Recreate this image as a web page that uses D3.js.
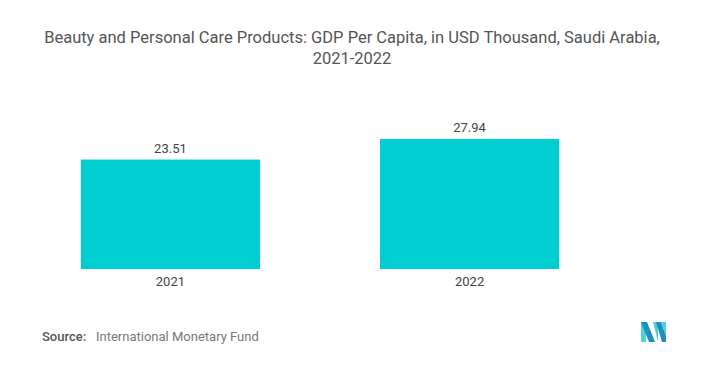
<!DOCTYPE html>
<html><head><meta charset="utf-8">
<script src="https://cdn.jsdelivr.net/npm/d3@7"></script>
<style>body{margin:0;background:#fff}svg{display:block}</style>
</head><body><svg id="c" width="704" height="376"></svg>
<script>
const categories = ["2021", "2022"];
const values = [23.51, 27.94];
const titleLines = ["Beauty and Personal Care Products: GDP Per Capita, in USD Thousand, Saudi Arabia,", "2021-2022"];
const sourceLabel = "Source:";
const sourceText = "International Monetary Fund";

const svg = d3.select("#c");
const font = "Roboto, 'Open Sans', sans-serif";

svg.append("text").attr("x", 352).attr("text-anchor", "middle")
  .attr("font-family", font).attr("font-size", 16.5).attr("fill", "#555")
  .selectAll("tspan").data(titleLines).join("tspan")
  .attr("x", 352).attr("y", (d, i) => 43 + i * 21).text(d => d);

const x = d3.scaleBand().domain(categories).range([21, 619]).paddingInner(0.401).paddingOuter(0.2);
const y = d3.scaleLinear().domain([0, 30]).range([269, 269 - 30 * 4.655]);

svg.selectAll("rect.bar").data(values).join("rect").attr("class", "bar")
  .attr("x", (d, i) => x(categories[i])).attr("width", x.bandwidth())
  .attr("y", d => y(d)).attr("height", d => y(0) - y(d))
  .attr("fill", "#00ced1");

svg.selectAll("text.val").data(values).join("text").attr("class", "val")
  .attr("x", (d, i) => x(categories[i]) + x.bandwidth() / 2)
  .attr("y", d => y(d) - 7).attr("text-anchor", "middle")
  .attr("font-family", font).attr("font-size", 13).attr("fill", "#444")
  .text(d => d.toFixed(2));

const xAxis = svg.append("g").attr("transform", `translate(0,${y(0)})`)
  .call(d3.axisBottom(x).tickSize(0).tickPadding(8));
xAxis.select(".domain").remove();
xAxis.selectAll("text").attr("font-family", font).attr("font-size", 13).attr("fill", "#444").attr("dy", "0.71em");

svg.append("text").attr("x", 42).attr("y", 341).attr("font-family", font)
  .attr("font-size", 13).attr("font-weight", 500).attr("fill", "#555").text(sourceLabel);
svg.append("text").attr("x", 96).attr("y", 341).attr("font-family", font)
  .attr("font-size", 13).attr("fill", "#777").text(sourceText);

// logo
const lg = svg.append("g").attr("transform", "translate(641,322)");
lg.append("polygon").attr("points", "0,0 5,0 5,20 0,20").attr("fill", "#4fd0d8");
lg.append("polygon").attr("points", "0,0 6,0 14,20 8,20").attr("fill", "#1f8fc0");
lg.append("polygon").attr("points", "12,0 17,0 17,20").attr("fill", "#4fd0d8");
lg.append("polygon").attr("points", "15,0 20,0 25,14 25,20 21,20").attr("fill", "#1f8fc0");
lg.append("polygon").attr("points", "20,0 25,0 25,14").attr("fill", "#4fd0d8");
</script></body></html>
